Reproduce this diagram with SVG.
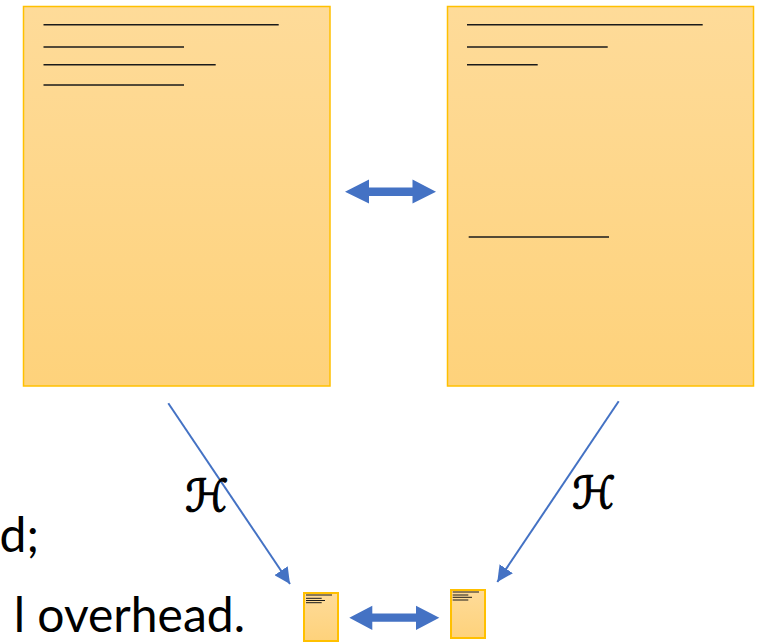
<svg xmlns="http://www.w3.org/2000/svg" width="758" height="642" viewBox="0 0 758 642">
<defs>
<linearGradient id="g" x1="0" y1="0" x2="0" y2="1">
<stop offset="0" stop-color="#FEDB99"/>
<stop offset="1" stop-color="#FED27B"/>
</linearGradient>
<marker id="ah2" viewBox="0 0 10 10" refX="10" refY="5" markerWidth="16" markerHeight="16" orient="auto" markerUnits="userSpaceOnUse">
<path d="M0,0 L10,5 L0,10 z" fill="#4472C4"/>
</marker>
</defs>
<style>
.doc{fill:url(#g);stroke:#FFC000;stroke-width:1.5}
.sdoc{fill:url(#g);stroke:#FFC000;stroke-width:2}
.ln{stroke:#1a1a1a;stroke-width:1.6}
.sln{stroke:#1a1a1a;stroke-width:1}
.conn{stroke:#4472C4;stroke-width:2;fill:none}
.dbl{fill:#4472C4}
.txt{font-family:"Lato","Liberation Sans",sans-serif;font-size:48px;fill:#000}
.h{font-family:"DejaVu Sans","Noto Sans",sans-serif;font-size:44px;fill:#000;stroke:#000;stroke-width:1.2}
</style>
<g id="doc-left">
<rect class="doc" x="23.5" y="6.5" width="306.5" height="379.5"/>
<line class="ln" x1="43.5" y1="24.7" x2="278.7" y2="24.7"/>
<line class="ln" x1="43.5" y1="47" x2="184" y2="47"/>
<line class="ln" x1="43.5" y1="64.7" x2="215.7" y2="64.7"/>
<line class="ln" x1="43.5" y1="85" x2="184" y2="85"/>
</g>
<g id="doc-right">
<rect class="doc" x="447.5" y="6.5" width="306" height="379.5"/>
<line class="ln" x1="467" y1="24.7" x2="702.7" y2="24.7"/>
<line class="ln" x1="467" y1="47" x2="607.7" y2="47"/>
<line class="ln" x1="467" y1="64.7" x2="537.7" y2="64.7"/>
<line class="ln" x1="468.7" y1="237" x2="609" y2="237"/>
</g>
<g id="small-left">
<rect class="sdoc" x="304" y="593" width="34" height="48"/>
<line class="sln" x1="306" y1="595" x2="332" y2="595"/>
<line class="sln" x1="306" y1="598.3" x2="321.7" y2="598.3"/>
<line class="sln" x1="306" y1="600.5" x2="325" y2="600.5"/>
<line class="sln" x1="306" y1="602.7" x2="321.7" y2="602.7"/>
</g>
<g id="small-right">
<rect class="sdoc" x="451" y="590" width="34" height="48"/>
<line class="sln" x1="452.7" y1="592" x2="479" y2="592"/>
<line class="sln" x1="452.7" y1="595" x2="468.3" y2="595"/>
<line class="sln" x1="452.7" y1="597.3" x2="472" y2="597.3"/>
<line class="sln" x1="452.7" y1="600" x2="468.3" y2="600"/>
</g>
<g id="connectors">
<path class="dbl" d="M345,191.7 L369,179.5 L369,187.5 L412.5,187.5 L412.5,179.5 L436,191.7 L412.5,203.5 L412.5,196 L369,196 L369,203.5 Z"/>
<path class="dbl" d="M349.3,617.7 L372.3,605.7 L372.3,613.5 L416,613.5 L416,605.7 L439.3,617.7 L416,630 L416,621.8 L372.3,621.8 L372.3,630 Z"/>
<line class="conn" x1="168.3" y1="403.3" x2="290" y2="584" marker-end="url(#ah2)"/>
<line class="conn" x1="618.7" y1="401.3" x2="497.3" y2="582" marker-end="url(#ah2)"/>
</g>
<text class="h" x="185" y="511">ℋ</text>
<text class="h" x="572" y="508">ℋ</text>
<text class="txt" x="39" y="551.7" text-anchor="end">d;</text>
<text class="txt" x="245" y="631.7" text-anchor="end">l overhead.</text>
</svg>
